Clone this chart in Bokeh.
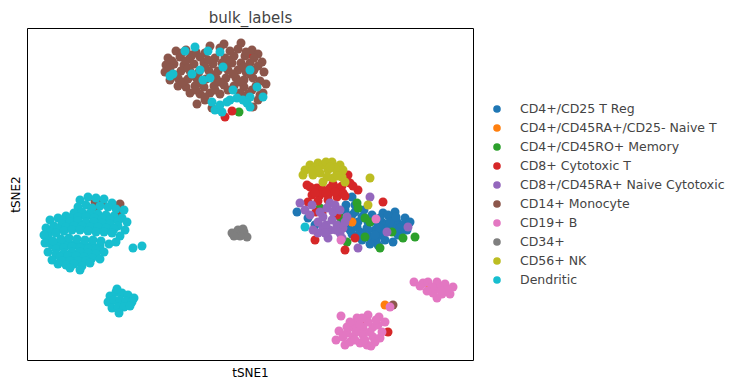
from bokeh.plotting import figure
from bokeh.models import Range1d, Legend, LegendItem, FixedTicker
from bokeh.embed import file_html
from bokeh.resources import INLINE

# ---- data (tSNE1, tSNE2; tSNE2 axis grows downward in these units) ----
categories = ["CD4+/CD25 T Reg", "CD4+/CD45RA+/CD25- Naive T", "CD4+/CD45RO+ Memory",
              "CD8+ Cytotoxic T", "CD8+/CD45RA+ Naive Cytotoxic", "CD14+ Monocyte",
              "CD19+ B", "CD34+", "CD56+ NK", "Dendritic"]
colors = ["#1f77b4", "#ff7f0e", "#2ca02c", "#d62728", "#9467bd", "#8c564b",
          "#e377c2", "#7f7f7f", "#bcbd22", "#17becf"]

treg = [(297,212),(308,218),(315,225),(343,220),(352,197),(355,212),(362,217),(357,227),(367,228),
        (350,230),(377,223),(380,235),(370,237),(362,240),(378,245),(383,213),(390,217),(397,222),
        (403,225),(400,233),(393,242),(407,230),(405,218),(383,223),(393,228),(368,222),(375,230),
        (345,210),(352,215),(360,232),(372,215),(388,228),(398,235),(385,240),(364,210),(395,212),
        (410,222),(388,215),(376,240),(358,222),(348,225),(370,244),
        (346,205),(355,205),(368,230),(380,228),(390,222),(400,228),(385,232),(375,235),(362,234),
        (396,217),(352,234),(380,218)]
naive_t = [(352,222),(429,289),(385,305)]
memory = [(320,208),(357,203),(365,218),(370,222),(347,242),(365,237),(392,232),(403,238),
          (415,237),(380,248),(340,217),(358,208),(239,112)]
cd8 = [(307,185),(310,187),(317,188),(323,190),(330,188),(338,188),(348,175),(350,183),(312,195),
       (308,202),(320,195),(328,195),(337,197),(343,193),(358,190),(383,202),(315,240),(345,250),
       (355,238),(337,215),(322,213),(314,189),(333,184),(342,186),(318,201),(316,212),
       (326,193),(335,192),(315,193),(345,196),(328,200),(353,186),
       (362,323),(388,332),(249,54),(232,111),(225,117)]
cd8_naive = [(300,203),(330,203),(327,208),(333,212),(323,217),(332,220),(337,225),(323,227),
             (318,233),(343,228),(370,197),(340,233),(358,248),(408,227),(387,232),(342,238),
             (347,217),(330,230),(305,210),(312,205),(318,222),(326,225),(335,205),(340,210),
             (328,238),(313,230),(320,212),(336,230),(325,233),(310,215),(345,222)]
mono = [(210,46),(224,44),(241,43),(176,51),(186,50),(196,52),(205,53),(230,51),(238,49),(252,50),
        (168,58),(180,57),(190,58),(200,57),(215,58),(225,58),(234,56),(245,56),(258,54),
        (166,65),(174,64),(184,65),(194,64),(204,63),(213,64),(222,63),(232,63),(241,63),(250,63),(262,62),
        (165,72),(181,71),(190,71),(199,72),(209,71),(218,71),(228,70),(238,70),(246,72),(254,70),(264,72),
        (170,80),(178,78),(188,79),(197,79),(206,79),(216,78),(226,78),(236,78),(244,80),(253,78),
        (178,86),(186,87),(195,86),(204,87),(214,86),(224,85),(234,86),(244,87),(256,86),(266,84),
        (190,93),(200,94),(210,93),(220,94),(240,93),(248,94),(260,95),
        (197,104),(253,107),(212,108),(205,100),(258,100),(263,93),
        (182,53),(192,55),(220,48),(246,52),(172,61),(186,61),(208,60),(228,60),(254,58),
        (170,68),(188,68),(205,67),(225,67),(244,67),(258,66),(175,75),(194,76),(214,75),
        (233,74),(250,74),(183,82),(201,83),(220,82),(240,82),(260,81),(196,90),(215,90),
        (228,90),(252,90),(205,97),(245,97),
        (95,202),(102,202),(95,207),(120,204),(118,212),(393,305)]
bcell = [(341,240),(376,219),(390,307),
         (414,282),(423,283),(428,282),(437,282),(445,284),(453,287),(450,294),(442,294),(437,298),
         (433,293),(435,288),(440,288),(447,290),(432,287),(420,286),(441,291),(427,291),
         (341,316),(357,318),(368,315),(379,317),(385,322),(339,331),(336,340),(347,333),(353,327),
         (363,328),(373,327),(382,332),(353,337),(363,335),(373,337),(350,342),(360,343),(367,345),
         (375,342),(347,327),(358,322),(368,322),(378,325),(343,337),(356,332),(370,332),
         (350,322),(360,325),(376,320),(365,340),(355,340),(345,345),(371,346),(380,338),(362,318)]
cd34 = [(232,233),(238,230),(244,232),(247,237),(240,236),(234,236),(243,229)]
nk = [(303,175),(310,165),(318,163),(323,165),(332,162),(340,165),(343,170),(337,173),(328,170),
      (320,173),(313,175),(323,182),(345,182),(333,178),(327,177),(370,178),(368,205),
      (305,170),(315,168),(335,168),(326,162),(342,177),(318,170),(330,167),(312,171),(338,176)]
dendritic = [(80,200),(88,197),(96,198),(104,199),(112,203),
             (78,207),(86,205),(108,207),(116,209),(124,210),(100,206),(92,208),
             (50,220),(58,218),(66,216),(74,213),(82,212),(90,213),(98,214),(106,215),(114,216),(122,218),(127,222),
             (62,220),(70,218),(78,217),(86,217),(94,218),(102,219),(110,220),(118,221),
             (46,228),(54,226),(62,224),(70,222),(78,221),(86,222),(94,222),(102,223),(110,224),(118,226),(125,230),
             (50,232),(58,229),(66,227),(74,226),(82,226),(90,227),(98,227),(106,228),(114,229),
             (48,237),(56,233),(64,231),(72,230),(80,230),(88,231),(96,232),(104,232),(112,233),(120,236),(116,242),
             (44,235),(52,245),(60,244),(68,243),(76,243),(84,244),(92,245),(100,246),
             (45,243),(53,241),(61,239),(69,238),(77,239),(85,240),(93,240),(101,241),(109,244),
             (48,252),(56,249),(64,248),(72,247),(80,248),(88,249),(96,250),(104,252),
             (56,254),(64,253),(72,252),(80,252),(88,253),(96,254),
             (52,260),(60,257),(68,256),(76,256),(84,257),(92,258),(100,259),
             (62,261),(70,261),(78,261),(86,261),
             (58,264),(66,265),(74,264),(82,266),(90,263),(80,270),(70,268),
             (133,248),(142,246),
             (110,296),(116,292),(122,293),(128,295),(134,298),(108,302),(114,300),(120,300),(126,301),
             (132,302),(112,308),(118,307),(124,307),(130,306),(119,313),(117,289),
             (185,51),(195,47),(208,51),(220,52),(173,74),(192,74),(223,67),(210,78),(203,80),(200,70),
             (250,70),(233,90),(230,100),(237,98),(243,100),(250,97),(257,87),(263,97),(212,102),
             (215,110),(222,112),(220,105),(227,102),(247,103),(250,107),(170,76),(305,227)]

series = [treg, naive_t, memory, cd8, cd8_naive, mono, bcell, cd34, nk, dendritic]

p = figure(output_backend="svg", toolbar_location=None,
           frame_width=446, frame_height=332,
           x_range=Range1d(27.5, 473.5), y_range=Range1d(360.5, 28.5),
           min_border_left=27, min_border_top=28, min_border_bottom=10, min_border_right=0,
           title="bulk_labels")
p.grid.visible = False
p.outline_line_color = "black"
p.outline_line_width = 1
p.background_fill_color = "white"

p.title.align = "center"
p.title.text_font = "DejaVu Sans"
p.title.text_font_size = "15px"
p.title.text_font_style = "normal"
p.title.standoff = 4

for ax, lab in ((p.xaxis, "tSNE1"), (p.yaxis, "tSNE2")):
    ax.ticker = FixedTicker(ticks=[])
    ax.major_tick_out = 0
    ax.major_tick_in = 0
    ax.minor_tick_out = 0
    ax.minor_tick_in = 0
    ax.major_label_standoff = 0
    ax.major_label_text_font_size = "0px"
    ax.axis_line_color = None
    ax.axis_label = lab
    ax.axis_label_text_font = "DejaVu Sans"
    ax.axis_label_text_font_size = "12px"
    ax.axis_label_text_font_style = "normal"
    ax.axis_label_text_color = "black"
    ax.axis_label_standoff = 5

items = []
for cat, col, pts in zip(categories, colors, series):
    xs = [q[0] for q in pts]
    ys = [q[1] for q in pts]
    r = p.scatter(xs, ys, size=9, fill_color=col, line_color=None)
    items.append(LegendItem(label=cat, renderers=[r]))

legend = Legend(items=items, location="center_left", orientation="vertical",
                margin=0, padding=0, spacing=0, glyph_width=47, glyph_height=19,
                label_height=19, label_standoff=0, border_line_color=None,
                background_fill_alpha=0,
                label_text_font="DejaVu Sans", label_text_font_size="12.5px")
p.add_layout(legend, "right")

open("out.html", "w").write(file_html(p, INLINE))
